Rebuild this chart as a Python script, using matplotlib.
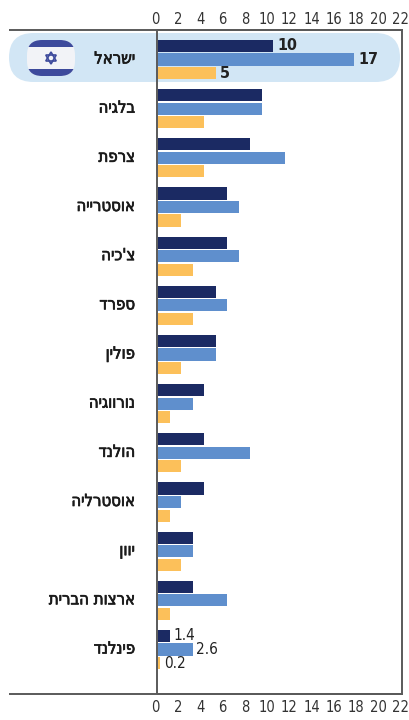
import matplotlib
matplotlib.use("Agg")
import matplotlib.pyplot as plt
import matplotlib.patheffects as pe
from matplotlib import font_manager as fm
from matplotlib.patches import FancyBboxPatch, Rectangle, Polygon
from matplotlib.transforms import ScaledTranslation
import numpy as np

W, H = 409, 720
countries = ["ישראל", "בלגיה", "צרפת", "אוסטרייה", "צ'כיה", "ספרד", "פולין",
             "נורווגיה", "הולנד", "אוסטרליה", "יוון", "ארצות הברית", "פינלנד"]
dark = [10, 9, 8, 6, 6, 5, 5, 4, 4, 4, 3, 3, 1]
blue = [17, 9, 11, 7, 7, 6, 5, 3, 8, 2, 3, 6, 3]
orange = [5, 4, 4, 2, 3, 3, 2, 1, 2, 1, 2, 1, 0.2]
tick_labels = list(range(0, 23, 2))
dark_labels = {0: "10", 12: "1.4"}
blue_labels = {0: "17", 12: "2.6"}
orange_labels = {0: "5", 12: "0.2"}

C_DARK, C_BLUE, C_ORANGE = "#1b2a63", "#5f8fcd", "#fcc05a"
C_LINE = "#5a5a5a"

cond = [f for f in fm.fontManager.ttflist
        if ("ondensed" in f.fname or "Narrow" in f.fname) and "Mono" not in f.fname
        and "Serif" not in f.fname and "Oblique" not in f.fname and "Italic" not in f.fname]
cond_reg = [f for f in cond if "Bold" not in f.fname]
cond_bold = [f for f in cond if "Bold" in f.fname]
def face(lst, size_cond, size_plain, weight):
    if lst:
        return dict(fontproperties=fm.FontProperties(fname=lst[0].fname, size=size_cond))
    return dict(fontproperties=fm.FontProperties(family=["Liberation Sans", "DejaVu Sans"],
                                                 size=size_plain, weight=weight))
HEB = face(cond_reg, 12, 11, "normal")
TICK = face(cond_reg, 10.5, 10, "normal")
VAL_B = face(cond_bold or cond_reg, 11.5, 12, "bold")
VAL_R = face(cond_reg, 11, 11, "normal")

fig = plt.figure(figsize=(W / 100, H / 100), dpi=100, facecolor="white")

bg = fig.add_axes([0, 0, 1, 1], zorder=0)
bg.set_xlim(0, W); bg.set_ylim(H, 0); bg.axis("off")
bg.add_patch(FancyBboxPatch((9, 33), 391, 49, boxstyle="round,pad=0,rounding_size=24.5",
                            fc="#d2e6f5", ec="none"))
clip = FancyBboxPatch((27, 40), 48, 36, boxstyle="round,pad=0,rounding_size=15",
                      fc="#f2f3f7", ec="none")
bg.add_patch(clip)
for y0, h_ in ((40, 7), (69, 7)):
    r = Rectangle((27, y0), 48, h_, fc="#3d4a9c", ec="none")
    bg.add_patch(r)
    r.set_clip_path(clip)
cx, cy, rs = 51, 58, 6
for sgn in (1, -1):
    a = np.radians([90, 210, 330])
    bg.add_patch(Polygon(np.c_[cx + rs * np.cos(a), cy - sgn * rs * np.sin(a)],
                         closed=True, fc="none", ec="#3d4a9c", lw=1.2))

ax = fig.add_axes([158 / W, 1 - 694 / H, (402 - 158) / W, (694 - 30) / H], zorder=2)
ax.patch.set_alpha(0)
y = np.arange(len(countries))
h, off = 0.245, 0.275
ax.barh(y - off, dark, h, color=C_DARK)
ax.barh(y, blue, h, color=C_BLUE)
ax.barh(y + off, orange, h, color=C_ORANGE)
ax.set_xlim(0, (402 - 158) / 11.5)
ax.set_ylim(12.905, -0.6)
ax.set_xticks([])
ax.set_yticks(y)
ax.set_yticklabels([c[::-1] for c in countries], color="#1a1a1a", **HEB)
ax.tick_params(axis="y", length=0, pad=16.5)
shift = ScaledTranslation(0, 3 / 100, fig.dpi_scale_trans)
for lab in ax.get_yticklabels():
    lab.set_transform(lab.get_transform() + shift)
    lab.set_path_effects([pe.withStroke(linewidth=0.5, foreground="#1a1a1a")])
for k, s in ax.spines.items():
    s.set_color(C_LINE); s.set_linewidth(1.4)
ax.spines["left"].set_visible(False)

for labels, vals, o in ((dark_labels, dark, -off), (blue_labels, blue, 0), (orange_labels, orange, off)):
    for i, t in labels.items():
        big = i == 0
        ax.annotate(t, (vals[i], i + o), xytext=(3.5 if big else 2.5, 0), textcoords="offset points",
                    va="center", ha="left", color="#222222", **(VAL_B if big else VAL_R))

# the printed scale is slightly tighter than the bars' scale, so it has axes of its own
for pos, pad in (("top", 2.5), ("bottom", 4)):
    a = fig.add_axes([155.5 / W, 1 - 694 / H, (401 - 155.5) / W, (694 - 30) / H], zorder=3, label=pos)
    a.patch.set_alpha(0)
    a.set_yticks([])
    a.set_xticks(tick_labels)
    a.set_xticklabels([str(t) for t in tick_labels], color="#333333", **TICK)
    a.set_xlim(0, 22)
    a.xaxis.set_ticks_position(pos)
    a.tick_params(axis="x", length=0, pad=pad)
    for s in a.spines.values():
        s.set_visible(False)

rules = fig.add_axes([0, 0, 1, 1], zorder=1)
rules.patch.set_alpha(0)
rules.set_xlim(0, W); rules.set_ylim(H, 0); rules.axis("off")
for yy in (30, 694):
    rules.plot([9, 402], [yy, yy], color=C_LINE, lw=1.4, solid_capstyle="butt")
rules.plot([157, 157], [30, 694], color=C_LINE, lw=1.4, solid_capstyle="butt")

fig.savefig("out.png", dpi=100)
